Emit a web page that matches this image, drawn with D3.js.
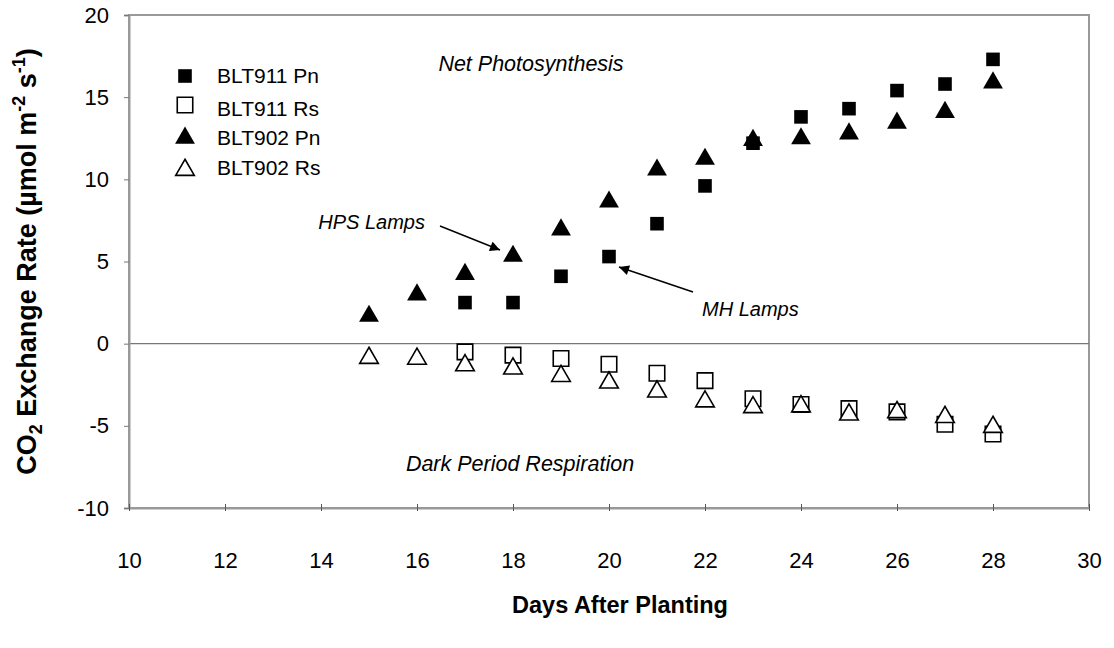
<!DOCTYPE html>
<head>
  <meta charset="utf-8">
  <style>
    body { margin: 0; background: #fff; }
    svg text { font-family: "Liberation Sans", Arial, sans-serif; fill: #000; }
  </style>
</head>
<body>
  <svg width=1114 height=648 id="chart"></svg>

  <script src="https://d3js.org/d3.v7.min.js"></script>
  <script>
    // data
    const days = [15, 16, 17, 18, 19, 20, 21, 22, 23, 24, 25, 26, 27, 28];
    const blt911Pn = [null, null, 2.5, 2.5, 4.1, 5.3, 7.3, 9.6, 12.2, 13.8, 14.3, 15.4, 15.8, 17.3];
    const blt911Rs = [null, null, -0.5, -0.7, -0.9, -1.25, -1.8, -2.25, -3.35, -3.7, -3.95, -4.15, -4.9, -5.5];
    const blt902Pn = [1.8, 3.1, 4.35, 5.45, 7.05, 8.75, 10.7, 11.35, 12.5, 12.6, 12.9, 13.55, 14.2, 16.0];
    const blt902Rs = [-0.75, -0.8, -1.2, -1.4, -1.85, -2.25, -2.8, -3.4, -3.75, -3.7, -4.2, -4.05, -4.35, -4.95];
    const xTicks = [10, 12, 14, 16, 18, 20, 22, 24, 26, 28, 30];
    const yTicks = [-10, -5, 0, 5, 10, 15, 20];

    const series = [
      {name: "BLT911 Pn", values: blt911Pn, shape: "square", filled: true},
      {name: "BLT911 Rs", values: blt911Rs, shape: "square", filled: false},
      {name: "BLT902 Pn", values: blt902Pn, shape: "triangle", filled: true},
      {name: "BLT902 Rs", values: blt902Rs, shape: "triangle", filled: false}
    ];

    let svg = d3.select("#chart"),
        pLeft = 129, pRight = 1089, pTop = 15, pBottom = 508;

    let x = d3.scaleLinear().domain([10, 30]).range([pLeft, pRight]),
        y = d3.scaleLinear().domain([-10, 20]).range([pBottom, pTop]);

    // frame
    svg.append("rect")
      .attr("x", pLeft).attr("y", pTop)
      .attr("width", pRight - pLeft).attr("height", pBottom - pTop)
      .attr("fill", "none").attr("stroke", "#999").attr("stroke-width", 2);

    // zero line
    svg.append("line")
      .attr("x1", pLeft).attr("x2", pRight)
      .attr("y1", y(0)).attr("y2", y(0))
      .attr("stroke", "#777").attr("stroke-width", 1.3);

    // y axis
    let yAxis = svg.append("g")
      .attr("transform", `translate(${pLeft},0)`)
      .call(d3.axisLeft(y).tickValues(yTicks).tickSize(5).tickPadding(15)
        .tickFormat(d => String(d)));
    yAxis.select(".domain").attr("stroke", "#999").attr("stroke-width", 2);
    yAxis.selectAll(".tick line").attr("stroke", "#777");
    yAxis.selectAll("text").style("font-size", "22px");

    // x axis
    let xAxis = svg.append("g")
      .attr("transform", `translate(0,${pBottom})`)
      .call(d3.axisBottom(x).tickValues(xTicks).tickSize(0).tickPadding(44)
        .tickFormat(d => String(d)));
    xAxis.select(".domain").attr("stroke", "#999").attr("stroke-width", 2);
    xAxis.selectAll(".tick").append("line")
      .attr("y1", -4).attr("y2", 3)
      .attr("stroke", "#555");
    xAxis.selectAll("text").style("font-size", "22px");

    // axis titles
    svg.append("text")
      .attr("x", 620).attr("y", 613)
      .attr("text-anchor", "middle")
      .style("font-size", "23.5px").style("font-weight", "bold")
      .text("Days After Planting");

    let yt = svg.append("text")
      .attr("transform", `translate(36,${(pTop + pBottom) / 2}) rotate(-90)`)
      .attr("text-anchor", "middle")
      .style("font-size", "27px").style("font-weight", "bold");
    yt.append("tspan").text("CO");
    yt.append("tspan").attr("dy", 6).style("font-size", "18px").text("2");
    yt.append("tspan").attr("dy", -6).text(" Exchange Rate (\u00b5mol m");
    yt.append("tspan").attr("dy", -11).style("font-size", "18px").text("-2");
    yt.append("tspan").attr("dy", 11).text(" s");
    yt.append("tspan").attr("dy", -11).style("font-size", "18px").text("-1");
    yt.append("tspan").attr("dy", 11).text(")");

    // markers
    const sym = {
      square: d3.symbol().type(d3.symbolSquare),
      triangle: d3.symbol().type(d3.symbolTriangle)
    };
    function markerPath(s) {
      if (s.shape === "square") return sym.square.size(s.filled ? 185 : 240)();
      return sym.triangle.size(s.filled ? 170 : 150)();
    }

    // open markers first, filled on top
    [series[1], series[3], series[0], series[2]].forEach(s => {
      let pts = days.map((d, i) => ({day: d, v: s.values[i]})).filter(p => p.v != null);
      svg.append("g").selectAll("path")
        .data(pts)
        .join("path")
        .attr("d", markerPath(s))
        .attr("transform", p => `translate(${x(p.day)},${y(p.v) + (s.shape === "triangle" ? 2 : 0)})`)
        .attr("fill", s.filled ? "#000" : "#fff")
        .attr("stroke", "#000")
        .attr("stroke-width", s.filled ? 0 : 1.6);
    });

    // legend
    let legend = svg.append("g").attr("transform", "translate(185,0)");
    const legendY = [76, 105, 136, 168];
    series.forEach((s, i) => {
      legend.append("path")
        .attr("d", markerPath(s))
        .attr("transform", `translate(0,${legendY[i] + (s.shape === "triangle" ? 2 : 0)})`)
        .attr("fill", s.filled ? "#000" : "#fff")
        .attr("stroke", "#000")
        .attr("stroke-width", s.filled ? 0 : 1.6);
      legend.append("text")
        .attr("x", 32).attr("y", legendY[i] + 7 + (i === 1 ? 4 : 0) + (i === 2 ? 2 : 0))
        .style("font-size", "21px")
        .text(s.name);
    });

    // region notes
    svg.append("text")
      .attr("x", 531).attr("y", 71)
      .attr("text-anchor", "middle")
      .style("font-size", "21.5px").style("font-style", "italic")
      .text("Net Photosynthesis");
    svg.append("text")
      .attr("x", 520).attr("y", 471)
      .attr("text-anchor", "middle")
      .style("font-size", "21.5px").style("font-style", "italic")
      .text("Dark Period Respiration");

    // lamp annotations with arrows
    svg.append("defs").append("marker")
      .attr("id", "arrow")
      .attr("viewBox", "0 0 10 10")
      .attr("refX", 10).attr("refY", 5)
      .attr("markerWidth", 11).attr("markerHeight", 10)
      .attr("markerUnits", "userSpaceOnUse")
      .attr("orient", "auto")
      .append("path").attr("d", "M0,0L10,5L0,10z").attr("fill", "#000");

    svg.append("text")
      .attr("x", 425).attr("y", 229)
      .attr("text-anchor", "end")
      .style("font-size", "20px").style("font-style", "italic")
      .text("HPS Lamps");
    svg.append("line")
      .attr("x1", 440).attr("y1", 226).attr("x2", 500).attr("y2", 250)
      .attr("stroke", "#000").attr("stroke-width", 1.5)
      .attr("marker-end", "url(#arrow)");

    svg.append("text")
      .attr("x", 702).attr("y", 316)
      .style("font-size", "20px").style("font-style", "italic")
      .text("MH Lamps");
    svg.append("line")
      .attr("x1", 693).attr("y1", 292).attr("x2", 619).attr("y2", 267)
      .attr("stroke", "#000").attr("stroke-width", 1.5)
      .attr("marker-end", "url(#arrow)");
  </script>
</body>
